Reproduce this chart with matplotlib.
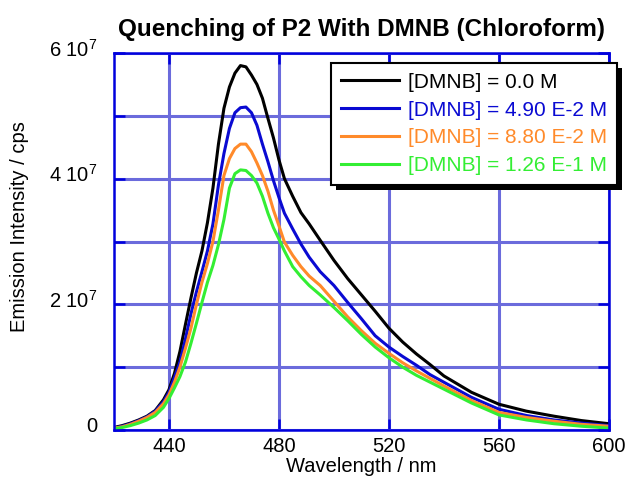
import matplotlib.pyplot as plt
from matplotlib.patches import Rectangle
from matplotlib.transforms import IdentityTransform, ScaledTranslation
from matplotlib.ticker import FuncFormatter

plt.rcParams['font.family'] = ['Liberation Sans', 'DejaVu Sans']
plt.rcParams['mathtext.fontset'] = 'custom'
plt.rcParams['mathtext.rm'] = 'Liberation Sans'
plt.rcParams['mathtext.it'] = 'Liberation Sans'

wavelength = [420, 423, 426, 429, 432, 435, 438, 440, 442, 444, 446, 448, 450, 452, 454, 456,
              458, 460, 462, 464, 466, 468, 470, 472, 474, 476, 478, 480, 482, 485, 488, 491,
              495, 500, 505, 510, 515, 520, 525, 530, 535, 540, 550, 560, 570, 580, 590, 600]

# intensities in units of 1e7 cps
dmnb_0 = [0.04, 0.07, 0.11, 0.16, 0.22, 0.31, 0.48, 0.64, 0.90, 1.25, 1.68, 2.10, 2.50, 2.85, 3.30, 3.85,
          4.55, 5.12, 5.46, 5.68, 5.80, 5.78, 5.65, 5.50, 5.28, 4.96, 4.65, 4.30, 4.00, 3.72, 3.46, 3.28,
          3.02, 2.70, 2.41, 2.15, 1.89, 1.62, 1.40, 1.21, 1.04, 0.86, 0.60, 0.41, 0.30, 0.22, 0.15, 0.10]
dmnb_490 = [0.03, 0.06, 0.10, 0.15, 0.21, 0.30, 0.45, 0.60, 0.84, 1.08, 1.45, 1.85, 2.20, 2.52, 2.85, 3.28,
            3.90, 4.40, 4.80, 5.05, 5.13, 5.14, 5.05, 4.85, 4.55, 4.27, 3.97, 3.70, 3.45, 3.20, 2.96, 2.75,
            2.52, 2.30, 2.03, 1.77, 1.50, 1.32, 1.17, 1.03, 0.88, 0.76, 0.52, 0.33, 0.23, 0.16, 0.11, 0.07]
dmnb_880 = [0.03, 0.05, 0.09, 0.14, 0.20, 0.28, 0.42, 0.56, 0.76, 1.00, 1.30, 1.62, 2.00, 2.35, 2.65, 3.00,
            3.50, 4.05, 4.32, 4.48, 4.55, 4.55, 4.43, 4.25, 4.05, 3.80, 3.50, 3.25, 2.99, 2.78, 2.60, 2.45,
            2.30, 2.05, 1.80, 1.58, 1.38, 1.22, 1.07, 0.94, 0.82, 0.70, 0.47, 0.28, 0.20, 0.14, 0.09, 0.06]
dmnb_1260 = [0.02, 0.04, 0.07, 0.11, 0.16, 0.23, 0.36, 0.50, 0.67, 0.85, 1.08, 1.38, 1.70, 2.03, 2.35, 2.62,
             2.95, 3.35, 3.85, 4.08, 4.14, 4.13, 4.05, 3.93, 3.72, 3.45, 3.22, 3.04, 2.85, 2.60, 2.44, 2.30,
             2.15, 1.95, 1.74, 1.52, 1.32, 1.15, 1.00, 0.87, 0.76, 0.65, 0.43, 0.24, 0.16, 0.10, 0.06, 0.03]

labels = ["[DMNB] = 0.0 M", "[DMNB] = 4.90 E-2 M", "[DMNB] = 8.80 E-2 M", "[DMNB] = 1.26 E-1 M"]
colors = ["#000000", "#0a0ad2", "#ff8a2a", "#33ee33"]
series = [dmnb_0, dmnb_490, dmnb_880, dmnb_1260]

fig = plt.figure(figsize=(6.33, 4.79), dpi=100)
ax = fig.add_axes([0.180, 0.1023, 0.782, 0.787])

for vals, col, lab in zip(series, colors, labels):
    ax.plot(wavelength, [v * 1e7 for v in vals], color=col, lw=2.2, label=lab,
            solid_joinstyle="round")

ax.set_xlim(420, 600)
ax.set_ylim(0, 6e7)
ax.set_xticks([440, 480, 520, 560, 600])
ax.set_yticks([i * 1e7 for i in range(7)])


def ylab(v, pos):
    n = int(round(v / 1e7))
    if n == 0:
        return "0"
    if n % 2:
        return ""
    return r"%d 10$^{7}$" % n


ax.yaxis.set_major_formatter(FuncFormatter(ylab))
ax.grid(True, color="#6b6bdc", lw=2.2)
ax.tick_params(direction="in", length=8, width=1.8, color="#0000dd",
               top=True, right=True, labelsize=14.5)
ax.tick_params(axis="x", pad=5)
ax.tick_params(axis="y", pad=12)
for s in ax.spines.values():
    s.set_color("#0000dd")
    s.set_linewidth(1.8)

# y tick labels sit a little above their ticks in the original
lift = ScaledTranslation(0, 4 / 72, fig.dpi_scale_trans)
for t in ax.get_yticklabels():
    t.set_transform(t.get_transform() + lift)

ax.set_xlabel("Wavelength / nm", fontsize=14.5, labelpad=1)
ax.set_ylabel("Emission Intensity / cps", fontsize=14.5)
ax.yaxis.set_label_coords(-0.172, 0.54)
ax.set_title("Quenching of P2 With DMNB (Chloroform)", fontsize=17.5, fontweight="bold", pad=12)

leg = ax.legend(loc="upper right", bbox_to_anchor=(1.016, 0.973), fontsize=15,
                frameon=True, fancybox=False, edgecolor="black", framealpha=1,
                handlelength=2.8, labelspacing=0.43, borderpad=0.45,
                handletextpad=0.45, borderaxespad=0)
leg.get_frame().set_linewidth(1.5)
leg.set_zorder(10)
for t, col in zip(leg.get_texts(), colors):
    t.set_color(col)
for h in leg.get_lines():
    h.set_linewidth(2.2)

# heavy black drop shadow to the lower right of the legend box
fig.canvas.draw()
bb = leg.get_window_extent()
shadow = Rectangle((bb.x0 + 5, bb.y0 - 5), bb.width, bb.height, transform=IdentityTransform(),
                   facecolor="black", edgecolor="none", zorder=9, clip_on=False)
ax.add_artist(shadow)

fig.savefig("out.png", dpi=100)
